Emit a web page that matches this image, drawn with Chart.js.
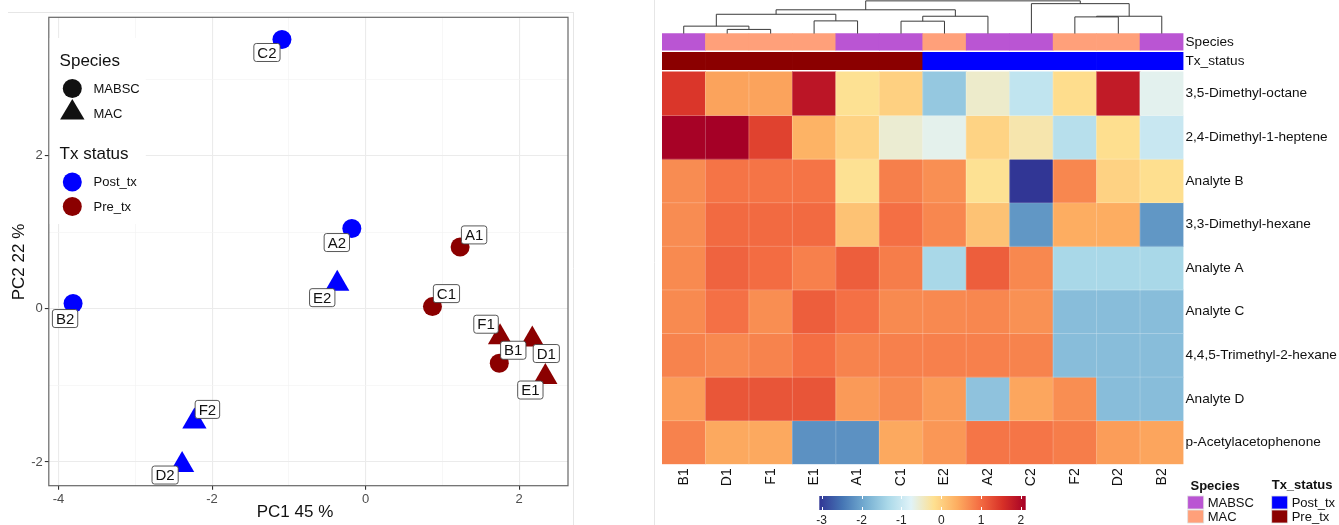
<!DOCTYPE html>
<html>
<head>
<meta charset="utf-8">
<script src="https://cdn.jsdelivr.net/npm/chart.js@4.4.0/dist/chart.umd.min.js"></script>
<style>
  html, body { margin: 0; padding: 0; background: #fff; }
  body { width: 1339px; height: 525px; position: relative; overflow: hidden; }
  canvas { position: absolute; }
  #pca { left: 0; top: 0; }
  #heat { left: 662px; top: 0; }
  #colbar { left: 800px; top: 490px; }
</style>
</head>
<body>
<canvas id="pca" width="662" height="525"></canvas>
<canvas id="heat" width="677" height="525"></canvas>
<canvas id="colbar" width="250" height="35"></canvas>
<script>
// PCA scores
const samples = ["A1", "B1", "C1", "D1", "E1", "F1", "A2", "B2", "C2", "D2", "E2", "F2"];
const pc1 = [1.23, 1.74, 0.87, 2.17, 2.34, 1.75, -0.18, -3.81, -1.09, -2.39, -0.37, -2.23];
const pc2 = [0.81, -0.71, 0.03, -0.4, -0.89, -0.37, 1.05, 0.07, 3.52, -2.04, 0.33, -1.47];
const species = ["MABSC", "MABSC", "MABSC", "MAC", "MAC", "MAC", "MABSC", "MABSC", "MABSC", "MAC", "MAC", "MAC"];
const txStatus = ["Pre_tx", "Pre_tx", "Pre_tx", "Pre_tx", "Pre_tx", "Pre_tx",
  "Post_tx", "Post_tx", "Post_tx", "Post_tx", "Post_tx", "Post_tx"];
const pcaXTicks = [-4, -2, 0, 2];
const pcaYTicks = [-2, 0, 2];

// heatmap (columns in dendrogram order, rows top to bottom)
const heatCols = ["B1", "D1", "F1", "E1", "A1", "C1", "E2", "A2", "C2", "F2", "D2", "B2"];
const heatRows = ["3,5-Dimethyl-octane", "2,4-Dimethyl-1-heptene", "Analyte B", "3,3-Dimethyl-hexane",
  "Analyte A", "Analyte C", "4,4,5-Trimethyl-2-hexane", "Analyte D", "p-Acetylacetophenone"];
const dimethylOctane = [1.49, 0.49, 0.49, 1.87, -0.2, 0.0, -1.56, -0.51, -1.1, -0.15, 1.8, -0.7];
const dimethylHeptene = [2.1, 2.12, 1.37, 0.34, -0.03, -0.55, -0.69, -0.03, -0.34, -1.2, -0.17, -1.02];
const analyteB = [0.69, 0.91, 0.91, 0.91, -0.2, 0.81, 0.67, -0.2, -3.06, 0.74, -0.02, -0.17];
const dimethylHexane = [0.69, 1.0, 1.0, 1.0, 0.16, 0.95, 0.74, 0.16, -2.14, 0.4, 0.4, -2.14];
const analyteA = [0.71, 1.06, 0.98, 0.8, 1.11, 0.83, -1.35, 1.11, 0.73, -1.35, -1.35, -1.35];
const analyteC = [0.71, 0.94, 0.68, 1.11, 0.94, 0.71, 0.72, 0.74, 0.65, -1.7, -1.7, -1.7];
const trimethylHexane = [0.77, 0.72, 0.77, 0.96, 0.77, 0.8, 0.8, 0.8, 0.77, -1.7, -1.7, -1.7];
const analyteD = [0.54, 1.19, 1.2, 1.2, 0.57, 0.71, 0.56, -1.63, 0.46, 0.68, -1.7, -1.7];
const acetylacetophenone = [0.78, 0.44, 0.44, -2.2, -2.2, 0.44, 0.6, 0.9, 0.9, 0.83, 0.54, 0.47];
const colourTicks = [-3, -2, -1, 0, 1, 2];
const colourMin = -3.06, colourMax = 2.12;

// column dendrogram (merge heights relative to root)
const dendro = { h: 1, l: { h: 0.727, l: { h: 0.59, l: { h: 0.227, l: "B1", r: { h: 0.127, l: "D1", r: "F1" } },
  r: { h: 0.388, l: "E1", r: "A1" } }, r: { h: 0.53, l: { h: 0.379, l: "C1", r: "E2" }, r: "A2" } },
  r: { h: 0.915, l: "C2", r: { h: 0.53, l: { h: 0.51, l: "F2", r: "D2" }, r: "B2" } } };

const heatValues = [dimethylOctane, dimethylHeptene, analyteB, dimethylHexane, analyteA,
  analyteC, trimethylHexane, analyteD, acetylacetophenone];

const statusColour = { Post_tx: "#0000FF", Pre_tx: "#8B0000" };
const speciesColour = { MABSC: "#BA55D3", MAC: "#FFA07A" };
// RdYlBu, 10 classes, reversed
const palette = ["#313695", "#4575B4", "#74ADD1", "#ABD9E9", "#E0F3F8",
  "#FEE090", "#FDAE61", "#F46D43", "#D73027", "#A50026"];
const FONT = '"Liberation Sans", Arial, sans-serif';
Chart.defaults.font.family = FONT;

function hexRgb(h) {
  return [1, 3, 5].map(function (i) { return parseInt(h.substr(i, 2), 16); });
}
function heatColour(v) {
  let t = (v - colourMin) / (colourMax - colourMin);
  t = Math.max(0, Math.min(1, t));
  const p = t * (palette.length - 1);
  const i = Math.min(Math.floor(p), palette.length - 2);
  const f = p - i;
  const a = hexRgb(palette[i]), b = hexRgb(palette[i + 1]);
  return "rgb(" + a.map(function (c, k) { return Math.round(c + (b[k] - c) * f); }).join(",") + ")";
}
function intRange(a, b) {
  const out = [];
  for (let v = a; v <= b; v++) out.push({ value: v });
  return out;
}
function noPad(axis) {
  axis.paddingTop = 0; axis.paddingBottom = 0; axis.paddingLeft = 0; axis.paddingRight = 0;
}

// ---------- left: PCA scatter ----------
// label offsets in px, like ggrepel placed them
const labelNudge = { C2: [-15, 13], A2: [-15, 14], E2: [-15, 14], B2: [-8, 15], F2: [13, -12],
  D2: [-17, 10], A1: [14, -12], C1: [14, -13], F1: [-14, -13], B1: [14, -13], D1: [14, 14], E1: [-15, 13] };

const pcaPlugin = {
  id: "pcaExtras",
  afterDatasetsDraw(chart) {
    const ctx = chart.ctx;
    const meta = chart.getDatasetMeta(0);
    ctx.save();
    ctx.font = "15px " + FONT;
    ctx.textAlign = "center";
    ctx.textBaseline = "middle";
    samples.forEach(function (s, i) {
      const el = meta.data[i];
      const n = labelNudge[s];
      const cx = el.x + n[0], cy = el.y + n[1];
      const w = ctx.measureText(s).width + 7, h = 18;
      ctx.beginPath();
      ctx.roundRect(cx - w / 2, cy - h / 2, w, h, 2.5);
      ctx.fillStyle = "#fff";
      ctx.fill();
      ctx.lineWidth = 0.9;
      ctx.strokeStyle = "#444";
      ctx.stroke();
      ctx.fillStyle = "#111";
      ctx.fillText(s, cx, cy + 1);
    });
    ctx.restore();
  },
  afterDraw(chart) {
    const ctx = chart.ctx;
    const a = chart.chartArea;
    ctx.save();
    // faint frame of the figure
    ctx.strokeStyle = "#e6e6e6";
    ctx.lineWidth = 1;
    ctx.beginPath();
    ctx.moveTo(8, 12.5); ctx.lineTo(574, 12.5);
    ctx.moveTo(573.5, 12); ctx.lineTo(573.5, 525);
    ctx.moveTo(654.5, 0); ctx.lineTo(654.5, 525);
    ctx.stroke();
    // panel border
    ctx.strokeStyle = "#666";
    ctx.lineWidth = 1.2;
    ctx.strokeRect(a.left, a.top, a.right - a.left, a.bottom - a.top);
    // axis titles
    ctx.fillStyle = "#111";
    ctx.font = "17px " + FONT;
    ctx.textAlign = "center";
    ctx.textBaseline = "middle";
    ctx.fillText("PC1 45 %", 295, 512);
    ctx.save();
    ctx.translate(19, 262);
    ctx.rotate(-Math.PI / 2);
    ctx.fillText("PC2 22 %", 0, 0);
    ctx.restore();
    // legend
    ctx.fillStyle = "#fff";
    ctx.fillRect(a.left + 1, 38, 96, 186);
    ctx.fillStyle = "#111";
    ctx.textAlign = "left";
    ctx.font = "17px " + FONT;
    ctx.fillText("Species", 59.6, 61);
    ctx.fillText("Tx status", 59.6, 154);
    ctx.font = "13px " + FONT;
    ctx.fillText("MABSC", 93.5, 89);
    ctx.fillText("MAC", 93.5, 114.5);
    ctx.fillText("Post_tx", 93.5, 182.5);
    ctx.fillText("Pre_tx", 93.5, 207);
    ctx.beginPath(); ctx.arc(72.3, 88.5, 9.5, 0, Math.PI * 2); ctx.fill();
    ctx.beginPath();
    ctx.moveTo(72.3, 99); ctx.lineTo(84.5, 119.5); ctx.lineTo(60.1, 119.5); ctx.closePath();
    ctx.fill();
    ctx.fillStyle = statusColour.Post_tx;
    ctx.beginPath(); ctx.arc(72.3, 182, 9.5, 0, Math.PI * 2); ctx.fill();
    ctx.fillStyle = statusColour.Pre_tx;
    ctx.beginPath(); ctx.arc(72.3, 206.5, 9.5, 0, Math.PI * 2); ctx.fill();
    ctx.restore();
  }
};

new Chart(document.getElementById("pca"), {
  type: "scatter",
  data: {
    datasets: [{
      data: samples.map(function (s, i) { return { x: pc1[i], y: pc2[i] }; }),
      pointStyle: species.map(function (s) { return s === "MAC" ? "triangle" : "circle"; }),
      pointRadius: species.map(function (s) { return s === "MAC" ? 14 : 9.5; }),
      pointBackgroundColor: txStatus.map(function (t) { return statusColour[t]; }),
      pointBorderWidth: 0
    }]
  },
  options: {
    responsive: false,
    animation: false,
    layout: { padding: { top: 17.3, right: 94, left: 0, bottom: 0 } },
    plugins: { legend: { display: false }, tooltip: { enabled: false } },
    scales: {
      x: {
        type: "linear", min: -4.126, max: 2.635,
        afterBuildTicks: function (axis) { axis.ticks = intRange(-4, 2); },
        afterFit: function (axis) { axis.height = 39.3; noPad(axis); },
        border: { display: false },
        grid: {
          color: function (c) { return c.tick && c.tick.value % 2 === 0 ? "#EBEBEB" : "#F4F4F4"; },
          lineWidth: function (c) { return c.tick && c.tick.value % 2 === 0 ? 1.1 : 0.7; },
          tickColor: function (c) { return c.tick && c.tick.value % 2 === 0 ? "#333" : "rgba(0,0,0,0)"; },
          tickLength: 4
        },
        ticks: {
          autoSkip: false, maxRotation: 0, padding: 2, color: "#4D4D4D", font: { size: 13 },
          callback: function (v) { return pcaXTicks.indexOf(v) >= 0 ? String(v) : ""; }
        }
      },
      y: {
        type: "linear", min: -2.31, max: 3.81,
        afterBuildTicks: function (axis) { axis.ticks = intRange(-2, 3); },
        afterFit: function (axis) { axis.width = 48.8; noPad(axis); },
        border: { display: false },
        grid: {
          color: function (c) { return c.tick && c.tick.value % 2 === 0 ? "#EBEBEB" : "#F4F4F4"; },
          lineWidth: function (c) { return c.tick && c.tick.value % 2 === 0 ? 1.1 : 0.7; },
          tickColor: function (c) { return c.tick && c.tick.value % 2 === 0 ? "#333" : "rgba(0,0,0,0)"; },
          tickLength: 4
        },
        ticks: {
          autoSkip: false, padding: 2, color: "#4D4D4D", font: { size: 13 },
          callback: function (v) { return pcaYTicks.indexOf(v) >= 0 ? String(v) : ""; }
        }
      }
    }
  },
  plugins: [pcaPlugin]
});

// ---------- right: heatmap ----------
const colSpecies = heatCols.map(function (c) { return species[samples.indexOf(c)]; });
const colStatus = heatCols.map(function (c) { return txStatus[samples.indexOf(c)]; });
const nRows = heatRows.length;
const txBand = [nRows + 0.053, nRows + 0.45];
const spBand = [nRows + 0.497, nRows + 0.88];
const dendroSpan = 0.75;

const heatSets = heatValues.map(function (vals, r) {
  return {
    data: vals.map(function () { return [nRows - 1 - r, nRows - r]; }),
    backgroundColor: vals.map(heatColour),
    borderWidth: 0, grouped: false, barPercentage: 1, categoryPercentage: 1
  };
});
heatSets.push({
  data: heatCols.map(function () { return txBand; }),
  backgroundColor: colStatus.map(function (t) { return statusColour[t]; }),
  borderWidth: 0, grouped: false, barPercentage: 1, categoryPercentage: 1
});
heatSets.push({
  data: heatCols.map(function () { return spBand; }),
  backgroundColor: colSpecies.map(function (s) { return speciesColour[s]; }),
  borderWidth: 0, grouped: false, barPercentage: 1, categoryPercentage: 1
});

const rowTickVals = [];
const rowTickText = [];
for (let r = nRows - 1; r >= 0; r--) { rowTickVals.push(nRows - 1 - r + 0.5); rowTickText.push(heatRows[r]); }
rowTickVals.push((txBand[0] + txBand[1]) / 2); rowTickText.push("Tx_status");
rowTickVals.push((spBand[0] + spBand[1]) / 2); rowTickText.push("Species");

const heatPlugin = {
  id: "heatExtras",
  afterDatasetsDraw(chart) {
    // faint seams between cells
    const ctx = chart.ctx;
    const xs = chart.scales.x, ys = chart.scales.y;
    ctx.save();
    ctx.strokeStyle = "rgba(255,255,255,0.22)";
    ctx.lineWidth = 1;
    ctx.beginPath();
    for (let c = 1; c < heatCols.length; c++) {
      const x = (xs.getPixelForValue(c - 1) + xs.getPixelForValue(c)) / 2;
      ctx.moveTo(x, ys.getPixelForValue(0)); ctx.lineTo(x, ys.getPixelForValue(nRows));
    }
    for (let r = 1; r < nRows; r++) {
      const y = ys.getPixelForValue(r);
      ctx.moveTo(xs.left, y); ctx.lineTo(xs.right, y);
    }
    ctx.stroke();
    ctx.restore();
  },
  afterDraw(chart) {
    const ctx = chart.ctx;
    const xs = chart.scales.x, ys = chart.scales.y;
    const leafVal = spBand[1];
    ctx.save();
    ctx.strokeStyle = "#3a3a3a";
    ctx.lineWidth = 1;
    function node(n) {
      if (typeof n === "string") return { x: xs.getPixelForValue(heatCols.indexOf(n)), y: ys.getPixelForValue(leafVal) };
      const a = node(n.l), b = node(n.r);
      const y = ys.getPixelForValue(leafVal + n.h * dendroSpan);
      ctx.beginPath();
      ctx.moveTo(a.x, a.y); ctx.lineTo(a.x, y); ctx.lineTo(b.x, y); ctx.lineTo(b.x, b.y);
      ctx.stroke();
      return { x: (a.x + b.x) / 2, y: y };
    }
    node(dendro);

    // annotation legends
    const ox = 662;
    ctx.textBaseline = "middle";
    ctx.textAlign = "left";
    ctx.fillStyle = "#111";
    ctx.font = "bold 13px " + FONT;
    ctx.fillText("Species", 1190.5 - ox, 486);
    ctx.fillText("Tx_status", 1271.7 - ox, 485.5);
    ctx.font = "13px " + FONT;
    const items = [
      [1187.7, 496, speciesColour.MABSC, "MABSC"], [1187.7, 510, speciesColour.MAC, "MAC"],
      [1271.7, 496, statusColour.Post_tx, "Post_tx"], [1271.7, 510, statusColour.Pre_tx, "Pre_tx"]
    ];
    items.forEach(function (it) {
      ctx.fillStyle = it[2];
      ctx.fillRect(it[0] - ox, it[1], 16, 13);
      ctx.strokeStyle = "#e0e0e0";
      ctx.lineWidth = 0.8;
      ctx.strokeRect(it[0] - ox, it[1], 16, 13);
      ctx.fillStyle = "#111";
      ctx.fillText(it[3], it[0] - ox + 20, it[1] + 7);
    });
    ctx.restore();
  }
};

new Chart(document.getElementById("heat"), {
  type: "bar",
  data: { labels: heatCols, datasets: heatSets },
  options: {
    responsive: false,
    animation: false,
    layout: { padding: 0 },
    plugins: { legend: { display: false }, tooltip: { enabled: false } },
    scales: {
      x: {
        type: "category",
        afterFit: function (axis) { axis.height = 60.7; noPad(axis); },
        grid: { display: false, drawTicks: false },
        border: { display: false },
        ticks: { autoSkip: false, maxRotation: 90, minRotation: 90, padding: 4, color: "#111", font: { size: 14 } }
      },
      y: {
        type: "linear", position: "right", min: 0, max: 10.65,
        afterBuildTicks: function (axis) { axis.ticks = rowTickVals.map(function (v) { return { value: v }; }); },
        afterFit: function (axis) { axis.width = 155.5; noPad(axis); },
        grid: { display: false, drawTicks: false },
        border: { display: false },
        ticks: {
          autoSkip: false, padding: 2, color: "#111", font: { size: 13.6 },
          callback: function (v, i) { return rowTickText[i]; }
        }
      }
    }
  },
  plugins: [heatPlugin]
});

// ---------- colour key ----------
const barTickPlugin = {
  id: "barTicks",
  afterDatasetsDraw(chart) {
    const ctx = chart.ctx, a = chart.chartArea, xs = chart.scales.x;
    ctx.save();
    ctx.strokeStyle = "#fff";
    ctx.lineWidth = 1;
    colourTicks.forEach(function (t) {
      const x = Math.round(xs.getPixelForValue(t)) + 0.5;
      ctx.beginPath();
      ctx.moveTo(x, a.top); ctx.lineTo(x, a.top + 3);
      ctx.moveTo(x, a.bottom - 3); ctx.lineTo(x, a.bottom);
      ctx.stroke();
    });
    ctx.restore();
  }
};

new Chart(document.getElementById("colbar"), {
  type: "bar",
  data: {
    labels: ["key"],
    datasets: [{
      data: [[colourMin, colourMax]],
      backgroundColor: function (c) {
        const a = c.chart.chartArea;
        if (!a) return "#ccc";
        const g = c.chart.ctx.createLinearGradient(a.left, 0, a.right, 0);
        palette.forEach(function (col, i) { g.addColorStop(i / (palette.length - 1), col); });
        return g;
      },
      borderWidth: 0, barPercentage: 1, categoryPercentage: 1
    }]
  },
  options: {
    indexAxis: "y",
    responsive: false,
    animation: false,
    layout: { padding: { left: 19.3, right: 24.3, top: 6, bottom: 0 } },
    plugins: { legend: { display: false }, tooltip: { enabled: false } },
    scales: {
      x: {
        type: "linear", min: colourMin, max: colourMax,
        afterBuildTicks: function (axis) { axis.ticks = colourTicks.map(function (v) { return { value: v }; }); },
        afterFit: function (axis) { axis.height = 15; noPad(axis); },
        grid: { display: false, drawTicks: false },
        border: { display: false },
        ticks: { autoSkip: false, maxRotation: 0, padding: 3, color: "#222", font: { size: 12 },
          callback: function (v) { return String(v); } }
      },
      y: { display: false }
    }
  },
  plugins: [barTickPlugin]
});
</script>
</body>
</html>
